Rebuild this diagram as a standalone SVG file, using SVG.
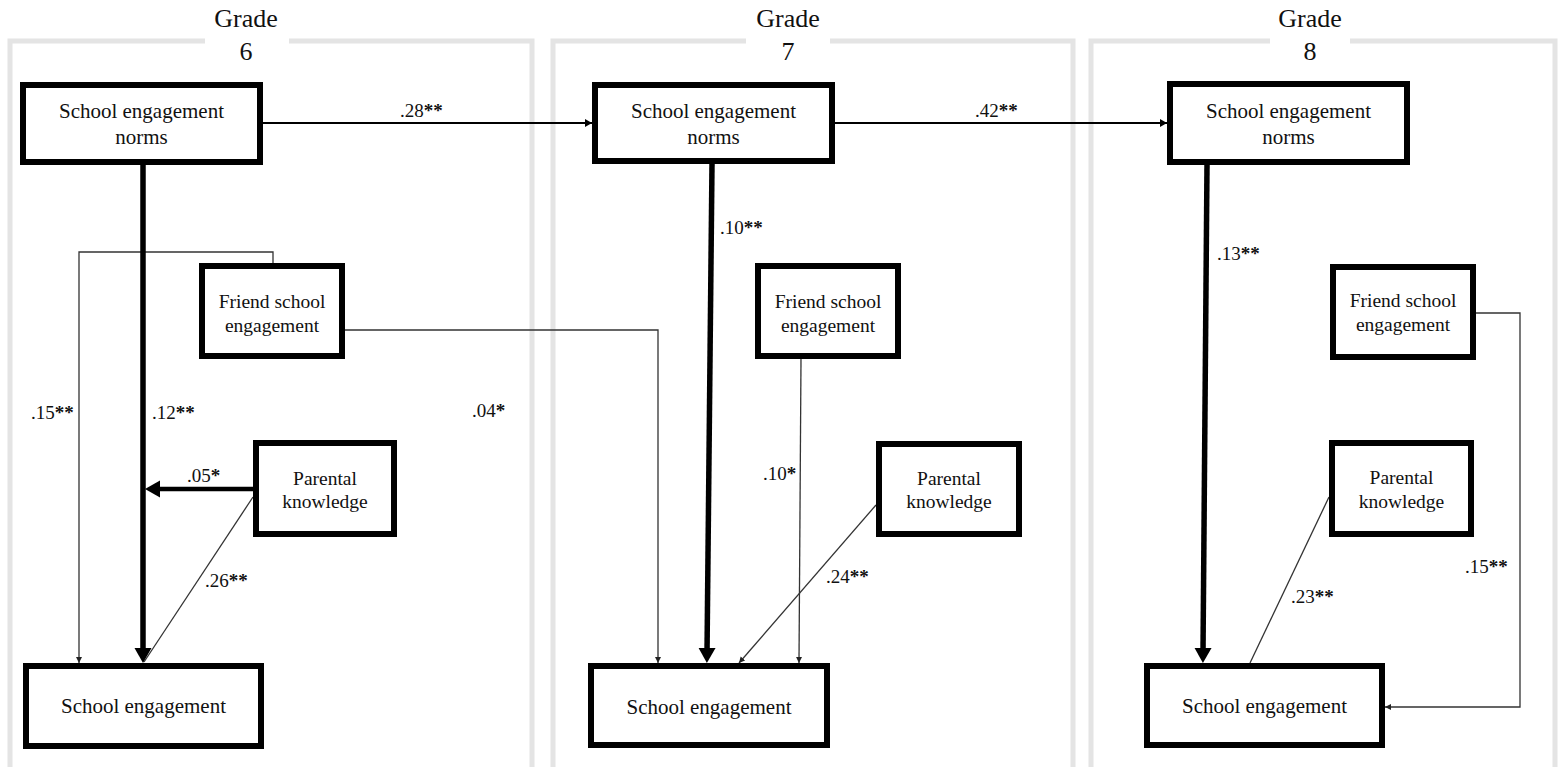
<svg xmlns="http://www.w3.org/2000/svg" width="1559" height="767" viewBox="0 0 1559 767">
  <style>
    .frame { fill: none; stroke: #e4e4e4; stroke-width: 5; }
    .title { font-family: "Liberation Serif", "Times New Roman", serif; font-size: 26px; fill: #111; text-anchor: middle; }
    .box { fill: #fff; stroke: #000; stroke-width: 6; }
    .lbl { font-family: "Liberation Serif", "Times New Roman", serif; font-size: 21px; fill: #111; text-anchor: middle; }
    .lbl-s { font-family: "Liberation Serif", "Times New Roman", serif; font-size: 19.5px; fill: #111; text-anchor: middle; }
    .coef { font-family: "Liberation Serif", "Times New Roman", serif; font-size: 19px; fill: #111; }
    .star { font-weight: bold; }
    .thin { fill: none; stroke: #333; stroke-width: 1.3; }
    .mid { fill: none; stroke: #000; stroke-width: 2; }
    .thick { fill: none; stroke: #000; stroke-width: 5.5; }
    .thick4 { fill: none; stroke: #000; stroke-width: 4.5; }
  </style>
  <defs>
    <marker id="ah-small" markerUnits="userSpaceOnUse" markerWidth="7" markerHeight="7" refX="6" refY="3" orient="auto">
      <path d="M0,0 L6,3 L0,6 z" fill="#222"/>
    </marker>
    <marker id="ah-mid" markerUnits="userSpaceOnUse" markerWidth="9" markerHeight="9" refX="7" refY="4" orient="auto">
      <path d="M0,0 L7,4 L0,8 z" fill="#000"/>
    </marker>
    <marker id="ah-big" markerUnits="userSpaceOnUse" markerWidth="16" markerHeight="18" refX="5" refY="8.5" orient="auto">
      <path d="M0,0 L15,8.5 L0,17 z" fill="#000"/>
    </marker>
  </defs>

  <!-- grade panels -->
  <g id="panels">
    <path class="frame" d="M10,770 V41 H205 M289,41 H532 V770"/>
    <path class="frame" d="M553,770 V41 H746 M830,41 H1073 V770"/>
    <path class="frame" d="M1091,770 V41 H1270 M1350,41 H1555 V770"/>
    <text class="title" x="246" y="27">Grade</text>
    <text class="title" x="246" y="60">6</text>
    <text class="title" x="788" y="27">Grade</text>
    <text class="title" x="788" y="60">7</text>
    <text class="title" x="1310" y="27">Grade</text>
    <text class="title" x="1310" y="60">8</text>
  </g>

  <!-- paths between constructs -->
  <g id="connectors">
    <path class="mid" d="M263,123 H592" marker-end="url(#ah-mid)"/>
    <path class="mid" d="M835,123 H1167" marker-end="url(#ah-mid)"/>
    <path class="thin" d="M273,263 V252 H79 V663" marker-end="url(#ah-small)"/>
    <path class="thin" d="M345,330 H658 V663" marker-end="url(#ah-small)"/>
    <path class="thin" d="M253,497 L144,662"/>
    <path class="thick" d="M143,165 V653" marker-end="url(#ah-big)"/>
    <path class="thick4" d="M253,489 H155" marker-end="url(#ah-big)"/>
    <path class="thin" d="M801,359 L799,663" marker-end="url(#ah-small)"/>
    <path class="thin" d="M876,505 L739,663" marker-end="url(#ah-small)"/>
    <path class="thick" d="M712,164 L707,653" marker-end="url(#ah-big)"/>
    <path class="thin" d="M1476,313 H1520 V707 H1385" marker-end="url(#ah-small)"/>
    <path class="thin" d="M1329,497 L1250,663"/>
    <path class="thick" d="M1207,165 L1203,653" marker-end="url(#ah-big)"/>
  </g>

  <!-- path coefficients -->
  <g id="coefficients">
    <text class="coef" x="400" y="117">.28<tspan class="star">**</tspan></text>
    <text class="coef" x="975" y="117">.42<tspan class="star">**</tspan></text>
    <text class="coef" x="31" y="419">.15<tspan class="star">**</tspan></text>
    <text class="coef" x="152" y="419">.12<tspan class="star">**</tspan></text>
    <text class="coef" x="472" y="417">.04<tspan class="star">*</tspan></text>
    <text class="coef" x="187" y="482">.05<tspan class="star">*</tspan></text>
    <text class="coef" x="205" y="587">.26<tspan class="star">**</tspan></text>
    <text class="coef" x="720" y="234">.10<tspan class="star">**</tspan></text>
    <text class="coef" x="763" y="480">.10<tspan class="star">*</tspan></text>
    <text class="coef" x="826" y="583">.24<tspan class="star">**</tspan></text>
    <text class="coef" x="1217" y="260">.13<tspan class="star">**</tspan></text>
    <text class="coef" x="1291" y="603">.23<tspan class="star">**</tspan></text>
    <text class="coef" x="1465" y="573">.15<tspan class="star">**</tspan></text>
  </g>

  <!-- grade 6 -->
  <g id="g6-norms">
    <rect class="box" x="23" y="85" width="237" height="77"/>
    <text class="lbl" x="141.5" y="118">School engagement</text>
    <text class="lbl" x="141.5" y="144">norms</text>
  </g>
  <g id="g6-friend">
    <rect class="box" x="202" y="266" width="140" height="90"/>
    <text class="lbl-s" x="272" y="308">Friend school</text>
    <text class="lbl-s" x="272" y="332">engagement</text>
  </g>
  <g id="g6-parental">
    <rect class="box" x="256" y="443" width="138" height="91"/>
    <text class="lbl-s" x="325" y="485">Parental</text>
    <text class="lbl-s" x="325" y="508">knowledge</text>
  </g>
  <g id="g6-engagement">
    <rect class="box" x="26" y="666" width="235" height="80"/>
    <text class="lbl" x="143.5" y="713">School engagement</text>
  </g>

  <!-- grade 7 -->
  <g id="g7-norms">
    <rect class="box" x="595" y="85" width="237" height="76"/>
    <text class="lbl" x="713.5" y="118">School engagement</text>
    <text class="lbl" x="713.5" y="144">norms</text>
  </g>
  <g id="g7-friend">
    <rect class="box" x="758" y="266" width="140" height="90"/>
    <text class="lbl-s" x="828" y="308">Friend school</text>
    <text class="lbl-s" x="828" y="332">engagement</text>
  </g>
  <g id="g7-parental">
    <rect class="box" x="879" y="444" width="140" height="90"/>
    <text class="lbl-s" x="949" y="485">Parental</text>
    <text class="lbl-s" x="949" y="508">knowledge</text>
  </g>
  <g id="g7-engagement">
    <rect class="box" x="591" y="666" width="236" height="79"/>
    <text class="lbl" x="709" y="714">School engagement</text>
  </g>

  <!-- grade 8 -->
  <g id="g8-norms">
    <rect class="box" x="1170" y="84" width="237" height="78"/>
    <text class="lbl" x="1288.5" y="118">School engagement</text>
    <text class="lbl" x="1288.5" y="144">norms</text>
  </g>
  <g id="g8-friend">
    <rect class="box" x="1333" y="267" width="140" height="90"/>
    <text class="lbl-s" x="1403" y="307">Friend school</text>
    <text class="lbl-s" x="1403" y="331">engagement</text>
  </g>
  <g id="g8-parental">
    <rect class="box" x="1332" y="443" width="139" height="91"/>
    <text class="lbl-s" x="1401.5" y="484">Parental</text>
    <text class="lbl-s" x="1401.5" y="508">knowledge</text>
  </g>
  <g id="g8-engagement">
    <rect class="box" x="1147" y="666" width="235" height="79"/>
    <text class="lbl" x="1264.5" y="713">School engagement</text>
  </g>
</svg>
